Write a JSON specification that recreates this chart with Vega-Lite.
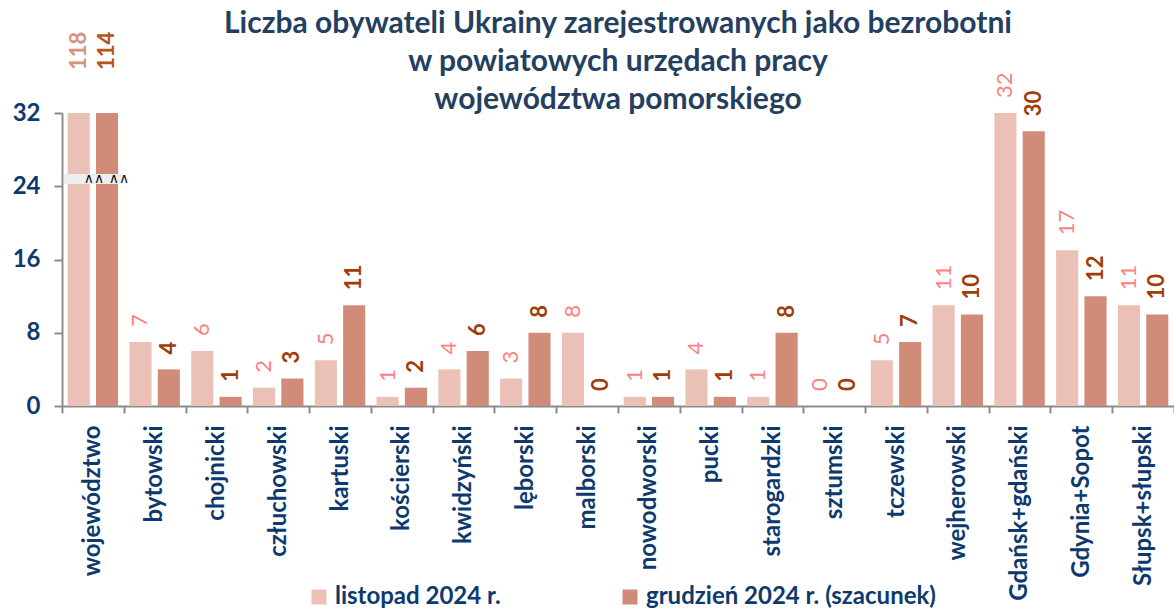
{
  "$schema": "https://vega.github.io/schema/vega-lite/v6.json",
  "autosize": {"type": "none"},
  "width": 1112,
  "height": 293,
  "padding": {"left": 62, "top": 113, "right": 0, "bottom": 202},
  "background": "white",
  "title": {
    "text": ["Liczba obywateli Ukrainy zarejestrowanych jako bezrobotni", "w powiatowych urzędach pracy", "województwa pomorskiego"],
    "font": "Lato",
    "fontSize": 30,
    "fontWeight": "bold",
    "color": "#243F60",
    "lineHeight": 38,
    "anchor": "middle",
    "frame": "group",
    "baseline": "alphabetic",
    "offset": -107
  },
  "config": {
    "view": {"stroke": null},
    "font": "Lato"
  },
  "data": {
    "values": [
      {"category": "województwo", "period": "listopad 2024 r.", "value": 118},
      {"category": "województwo", "period": "grudzień 2024 r. (szacunek)", "value": 114},
      {"category": "bytowski", "period": "listopad 2024 r.", "value": 7},
      {"category": "bytowski", "period": "grudzień 2024 r. (szacunek)", "value": 4},
      {"category": "chojnicki", "period": "listopad 2024 r.", "value": 6},
      {"category": "chojnicki", "period": "grudzień 2024 r. (szacunek)", "value": 1},
      {"category": "człuchowski", "period": "listopad 2024 r.", "value": 2},
      {"category": "człuchowski", "period": "grudzień 2024 r. (szacunek)", "value": 3},
      {"category": "kartuski", "period": "listopad 2024 r.", "value": 5},
      {"category": "kartuski", "period": "grudzień 2024 r. (szacunek)", "value": 11},
      {"category": "kościerski", "period": "listopad 2024 r.", "value": 1},
      {"category": "kościerski", "period": "grudzień 2024 r. (szacunek)", "value": 2},
      {"category": "kwidzyński", "period": "listopad 2024 r.", "value": 4},
      {"category": "kwidzyński", "period": "grudzień 2024 r. (szacunek)", "value": 6},
      {"category": "lęborski", "period": "listopad 2024 r.", "value": 3},
      {"category": "lęborski", "period": "grudzień 2024 r. (szacunek)", "value": 8},
      {"category": "malborski", "period": "listopad 2024 r.", "value": 8},
      {"category": "malborski", "period": "grudzień 2024 r. (szacunek)", "value": 0},
      {"category": "nowodworski", "period": "listopad 2024 r.", "value": 1},
      {"category": "nowodworski", "period": "grudzień 2024 r. (szacunek)", "value": 1},
      {"category": "pucki", "period": "listopad 2024 r.", "value": 4},
      {"category": "pucki", "period": "grudzień 2024 r. (szacunek)", "value": 1},
      {"category": "starogardzki", "period": "listopad 2024 r.", "value": 1},
      {"category": "starogardzki", "period": "grudzień 2024 r. (szacunek)", "value": 8},
      {"category": "sztumski", "period": "listopad 2024 r.", "value": 0},
      {"category": "sztumski", "period": "grudzień 2024 r. (szacunek)", "value": 0},
      {"category": "tczewski", "period": "listopad 2024 r.", "value": 5},
      {"category": "tczewski", "period": "grudzień 2024 r. (szacunek)", "value": 7},
      {"category": "wejherowski", "period": "listopad 2024 r.", "value": 11},
      {"category": "wejherowski", "period": "grudzień 2024 r. (szacunek)", "value": 10},
      {"category": "Gdańsk+gdański", "period": "listopad 2024 r.", "value": 32},
      {"category": "Gdańsk+gdański", "period": "grudzień 2024 r. (szacunek)", "value": 30},
      {"category": "Gdynia+Sopot", "period": "listopad 2024 r.", "value": 17},
      {"category": "Gdynia+Sopot", "period": "grudzień 2024 r. (szacunek)", "value": 12},
      {"category": "Słupsk+słupski", "period": "listopad 2024 r.", "value": 11},
      {"category": "Słupsk+słupski", "period": "grudzień 2024 r. (szacunek)", "value": 10}
    ]
  },
  "encoding": {
    "x": {
      "field": "category",
      "type": "nominal",
      "sort": null,
      "scale": {"paddingInner": 0, "paddingOuter": 0},
      "axis": {
        "title": null,
        "labelAngle": -90,
        "labelFont": "Lato",
        "labelFontSize": 24,
        "labelFontWeight": "bold",
        "labelColor": "#0D3A6E",
        "labelPadding": 12,
        "labelLimit": 300,
        "domainColor": "#8C8C8C",
        "domainWidth": 2,
        "tickColor": "#8C8C8C",
        "tickWidth": 2,
        "tickSize": 7,
        "tickBand": "extent"
      }
    },
    "xOffset": {
      "field": "period",
      "type": "nominal",
      "sort": ["listopad 2024 r.", "grudzień 2024 r. (szacunek)"],
      "scale": {"paddingInner": 0.22, "paddingOuter": 0.2}
    },
    "y": {
      "field": "value",
      "type": "quantitative",
      "scale": {"domain": [0, 32], "clamp": true, "nice": false},
      "axis": {
        "title": null,
        "values": [0, 8, 16, 24, 32],
        "grid": false,
        "labelFont": "Lato",
        "labelFontSize": 24,
        "labelFontWeight": "bold",
        "labelColor": "#0D3A6E",
        "labelPadding": 14,
        "domainColor": "#8C8C8C",
        "domainWidth": 2,
        "tickColor": "#8C8C8C",
        "tickWidth": 2,
        "tickSize": 8
      }
    }
  },
  "layer": [
    {
      "mark": {"type": "bar"},
      "encoding": {
        "color": {
          "field": "period",
          "type": "nominal",
          "scale": {"domain": ["listopad 2024 r.", "grudzień 2024 r. (szacunek)"], "range": ["#EBC0B6", "#D08B79"]},
          "legend": {
            "title": null,
            "orient": "none",
            "direction": "horizontal",
            "legendX": 245,
            "legendY": 472,
            "symbolType": "square",
            "symbolSize": 225,
            "symbolStrokeWidth": 0,
            "symbolOpacity": 1,
            "labelFont": "Lato",
            "labelFontSize": 24,
            "labelFontWeight": "bold",
            "labelColor": "#0D3A6E",
            "labelOffset": 4,
            "labelLimit": 400,
            "columnPadding": 117
          }
        }
      }
    },
    {
      "transform": [{"filter": "datum.category !== 'województwo' && datum.period === 'listopad 2024 r.'"}],
      "mark": {"type": "text", "angle": 270, "align": "left", "baseline": "middle", "dx": 15, "font": "Lato", "fontSize": 22, "fontWeight": "normal", "color": "#FF8080"},
      "encoding": {"text": {"field": "value", "type": "quantitative"}}
    },
    {
      "transform": [{"filter": "datum.category !== 'województwo' && datum.period !== 'listopad 2024 r.'"}],
      "mark": {"type": "text", "angle": 270, "align": "left", "baseline": "middle", "dx": 15, "font": "Lato", "fontSize": 22, "fontWeight": "bold", "color": "#9E3D07"},
      "encoding": {"text": {"field": "value", "type": "quantitative"}}
    },
    {
      "transform": [{"filter": "datum.category === 'województwo' && datum.period === 'listopad 2024 r.'"}],
      "mark": {"type": "text", "angle": 270, "align": "left", "baseline": "middle", "dx": 43, "font": "Lato", "fontSize": 22, "fontWeight": "bold", "color": "#D3937F"},
      "encoding": {"text": {"field": "value", "type": "quantitative"}}
    },
    {
      "transform": [{"filter": "datum.category === 'województwo' && datum.period !== 'listopad 2024 r.'"}],
      "mark": {"type": "text", "angle": 270, "align": "left", "baseline": "middle", "dx": 43, "font": "Lato", "fontSize": 22, "fontWeight": "bold", "color": "#B4561A"},
      "encoding": {"text": {"field": "value", "type": "quantitative"}}
    },
    {
      "data": {"values": [{"category": "województwo", "brk": 24.8}]},
      "mark": {"type": "tick", "orient": "horizontal", "size": 58, "thickness": 10, "color": "#EEEEEE", "opacity": 1},
      "encoding": {
        "x": {"field": "category", "type": "nominal", "bandPosition": 0.72},
        "xOffset": null,
        "y": {"field": "brk", "type": "quantitative"}
      }
    },
    {
      "data": {"values": [{"category": "województwo", "brk": 24.8}]},
      "mark": {"type": "text", "text": "∧∧   ∧∧", "font": "DejaVu Sans", "fontSize": 14, "color": "#111111", "align": "center", "baseline": "middle", "dx": 0},
      "encoding": {
        "x": {"field": "category", "type": "nominal", "bandPosition": 0.72},
        "xOffset": null,
        "y": {"field": "brk", "type": "quantitative"}
      }
    }
  ]
}
